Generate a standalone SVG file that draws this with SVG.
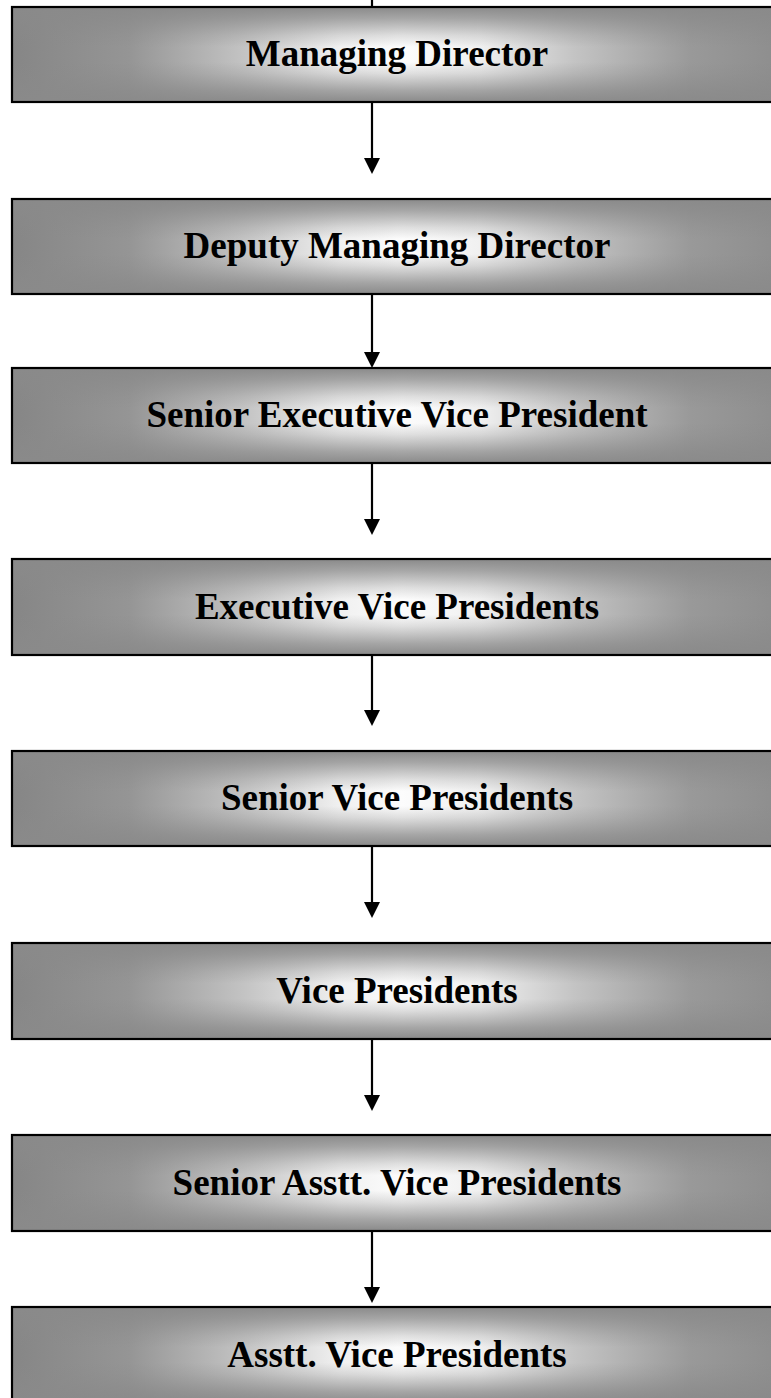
<svg xmlns="http://www.w3.org/2000/svg" width="771" height="1398" viewBox="0 0 771 1398">
<defs>
<linearGradient id="gh" x1="0" y1="0" x2="1" y2="0">
<stop offset="0" stop-color="#868686"/>
<stop offset="0.15" stop-color="#959595"/>
<stop offset="0.3" stop-color="#c4c4c4"/>
<stop offset="0.42" stop-color="#f0f0f0"/>
<stop offset="0.5" stop-color="#fcfcfc"/>
<stop offset="0.6" stop-color="#f0f0f0"/>
<stop offset="0.72" stop-color="#c4c4c4"/>
<stop offset="0.87" stop-color="#999999"/>
<stop offset="1" stop-color="#8c8c8c"/>
</linearGradient>
<linearGradient id="gv" x1="0" y1="0" x2="0" y2="1">
<stop offset="0" stop-color="#8a8a8a" stop-opacity="1"/>
<stop offset="0.12" stop-color="#8a8a8a" stop-opacity="0.75"/>
<stop offset="0.3" stop-color="#8a8a8a" stop-opacity="0.25"/>
<stop offset="0.42" stop-color="#8a8a8a" stop-opacity="0"/>
<stop offset="0.58" stop-color="#8a8a8a" stop-opacity="0"/>
<stop offset="0.7" stop-color="#8a8a8a" stop-opacity="0.25"/>
<stop offset="0.88" stop-color="#8a8a8a" stop-opacity="0.75"/>
<stop offset="1" stop-color="#8a8a8a" stop-opacity="1"/>
</linearGradient>
<marker id="ah" markerWidth="16" markerHeight="16" viewBox="0 0 16 16" refX="8" refY="8" orient="auto" markerUnits="userSpaceOnUse">
<path d="M0,0 L16,8 L0,16 Z" fill="#000"/>
</marker>
</defs>
<style>
.base{fill:url(#gh);}
.shade{fill:url(#gv);}
.frame{fill:none;stroke:#000;stroke-width:2.2;}
.lbl{font-family:"Liberation Serif","Times New Roman",serif;font-weight:bold;font-size:37px;fill:#000;text-anchor:middle;}
.con{stroke:#000;stroke-width:2.2;fill:none;}
</style>
<rect width="771" height="1398" fill="#fff"/>
<g id="connectors">
<line class="con" x1="372" y1="0" x2="372" y2="7"/>
<line class="con" x1="372" y1="102" x2="372" y2="166" marker-end="url(#ah)"/>
<line class="con" x1="372" y1="294" x2="372" y2="360" marker-end="url(#ah)"/>
<line class="con" x1="372" y1="463" x2="372" y2="527" marker-end="url(#ah)"/>
<line class="con" x1="372" y1="655" x2="372" y2="718" marker-end="url(#ah)"/>
<line class="con" x1="372" y1="846" x2="372" y2="910" marker-end="url(#ah)"/>
<line class="con" x1="372" y1="1039" x2="372" y2="1103" marker-end="url(#ah)"/>
<line class="con" x1="372" y1="1231" x2="372" y2="1295" marker-end="url(#ah)"/>
</g>
<g id="n1"><rect class="base" x="12" y="7" width="780" height="95"/><rect class="shade" x="12" y="7" width="780" height="95"/><rect class="frame" x="12" y="7" width="780" height="95"/><text class="lbl" x="397" y="66">Managing Director</text></g>
<g id="n2"><rect class="base" x="12" y="199" width="780" height="95"/><rect class="shade" x="12" y="199" width="780" height="95"/><rect class="frame" x="12" y="199" width="780" height="95"/><text class="lbl" x="397" y="258">Deputy Managing Director</text></g>
<g id="n3"><rect class="base" x="12" y="368" width="780" height="95"/><rect class="shade" x="12" y="368" width="780" height="95"/><rect class="frame" x="12" y="368" width="780" height="95"/><text class="lbl" x="397" y="427">Senior Executive Vice President</text></g>
<g id="n4"><rect class="base" x="12" y="559" width="780" height="96"/><rect class="shade" x="12" y="559" width="780" height="96"/><rect class="frame" x="12" y="559" width="780" height="96"/><text class="lbl" x="397" y="619">Executive Vice Presidents</text></g>
<g id="n5"><rect class="base" x="12" y="751" width="780" height="95"/><rect class="shade" x="12" y="751" width="780" height="95"/><rect class="frame" x="12" y="751" width="780" height="95"/><text class="lbl" x="397" y="810">Senior Vice Presidents</text></g>
<g id="n6"><rect class="base" x="12" y="943" width="780" height="96"/><rect class="shade" x="12" y="943" width="780" height="96"/><rect class="frame" x="12" y="943" width="780" height="96"/><text class="lbl" x="397" y="1003">Vice Presidents</text></g>
<g id="n7"><rect class="base" x="12" y="1135" width="780" height="96"/><rect class="shade" x="12" y="1135" width="780" height="96"/><rect class="frame" x="12" y="1135" width="780" height="96"/><text class="lbl" x="397" y="1195">Senior Asstt. Vice Presidents</text></g>
<g id="n8"><rect class="base" x="12" y="1307" width="780" height="96"/><rect class="shade" x="12" y="1307" width="780" height="96"/><rect class="frame" x="12" y="1307" width="780" height="96"/><text class="lbl" x="397" y="1367">Asstt. Vice Presidents</text></g>
</svg>
